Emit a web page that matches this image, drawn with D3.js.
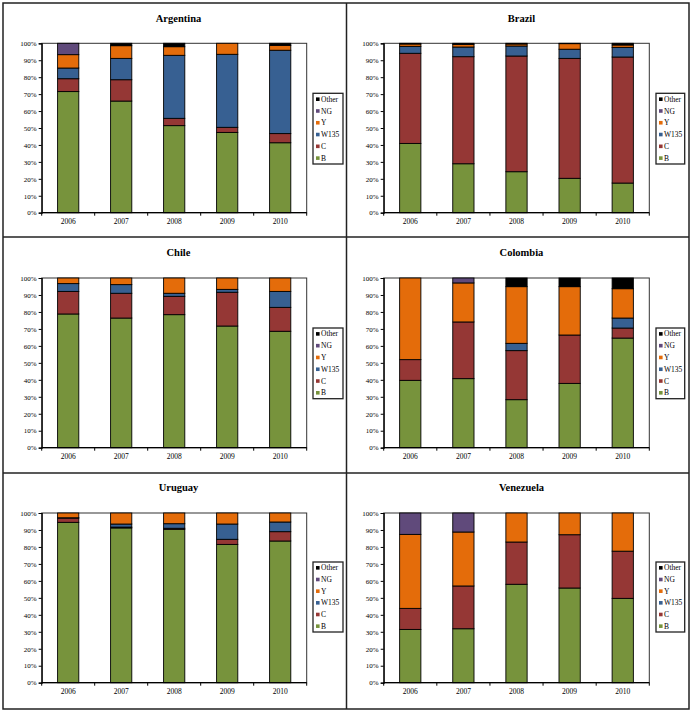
<!DOCTYPE html>
<html><head><meta charset="utf-8">
<script src="https://cdn.jsdelivr.net/npm/d3@7"></script>
<style>body{margin:0;background:#fff}svg{display:block}</style>
</head><body><svg id="c" width="692" height="714"></svg>
<script>
const years = ["2006","2007","2008","2009","2010"];
const seriesNames = ["B","C","W135","Y","NG","Other"];
const seriesColors = ["#77933c","#953735","#376092","#e46c0a","#604a7b","#000000"];
const yTickLabels = ["0%","10%","20%","30%","40%","50%","60%","70%","80%","90%","100%"];
const countries = ["Argentina","Brazil","Chile","Colombia","Uruguay","Venezuela"];
// values per series in order B, C, W135, Y, NG, Other (percent per year)
const argentina = [
  [71.5,65.9,51.4,47.4,41.3],
  [7.6,12.6,4.3,3.0,5.4],
  [6.3,12.6,37.2,43.1,49.2],
  [7.9,7.5,5.1,6.5,2.9],
  [6.7,0,0,0,0],
  [0,1.4,2.0,0,1.2]];
const brazil = [
  [40.9,28.9,24.2,20.3,17.5],
  [53.2,63.2,68.3,70.8,74.4],
  [4.1,5.7,5.9,5.4,5.7],
  [1.4,1.6,1.2,3.3,1.4],
  [0,0,0,0,0],
  [0.4,0.6,0.4,0.2,1.0]];
const chile = [
  [78.8,76.4,78.4,71.7,68.6],
  [13.3,14.6,10.8,19.9,14.1],
  [4.6,5.1,1.8,1.7,9.4],
  [3.3,3.9,9.0,6.7,7.9],
  [0,0,0,0,0],
  [0,0,0,0,0]];
const colombia = [
  [39.7,40.7,28.3,37.9,64.6],
  [12.2,33.4,28.9,28.5,5.9],
  [0,0,4.3,0,5.9],
  [48.1,23.0,33.4,28.5,17.3],
  [0,2.9,0,0,0],
  [0,0,5.1,5.1,6.3]];
const uruguay = [
  [94.5,91.2,90.4,81.5,83.5],
  [2.5,0.5,0.6,3.0,5.5],
  [0.2,1.8,2.7,9.0,5.7],
  [2.8,6.5,6.3,6.5,5.3],
  [0,0,0,0,0],
  [0,0,0,0,0]];
const venezuela = [
  [31.4,31.8,58.0,55.8,49.7],
  [12.4,25.2,24.9,31.4,27.8],
  [0,0,0,0,0],
  [43.6,31.8,17.1,12.8,22.5],
  [12.6,11.2,0,0,0],
  [0,0,0,0,0]];
const panelData = [argentina,brazil,chile,colombia,uruguay,venezuela];

const svg = d3.select("#c");
const FONT = "'Liberation Serif','Times New Roman',serif";

// panel frame
const frame = svg.append("g");
frame.append("rect").attr("x",3).attr("y",3).attr("width",686).attr("height",706)
  .attr("fill","none").attr("stroke","#222").attr("stroke-width",1.5);
frame.append("line").attr("x1",346.5).attr("x2",346.5).attr("y1",3).attr("y2",709).attr("stroke","#222").attr("stroke-width",1.5);
frame.append("line").attr("x1",3).attr("x2",689).attr("y1",237).attr("y2",237).attr("stroke","#222").attr("stroke-width",1.5);
frame.append("line").attr("x1",3).attr("x2",689).attr("y1",473).attr("y2",473).attr("stroke","#222").attr("stroke-width",1.5);

const cols = [
  {px0:41.7, px1:306.7, titleX:178.5, lx0:313, lx1:343},
  {px0:383.7, px1:649.3, titleX:521.5, lx0:656, lx1:684.7}];
const rows = [
  {py0:43.3, py1:212.7, titleY:21.5, ly0:93.3, ly1:164},
  {py0:278, py1:447.7, titleY:255.5, ly0:328, ly1:398.7},
  {py0:513, py1:682.7, titleY:490.5, ly0:562, ly1:632}];

countries.forEach((name,i)=>{
  const c = cols[i%2], r = rows[Math.floor(i/2)];
  const data = panelData[i];
  const g = svg.append("g");
  const x = d3.scaleBand().domain(years).range([c.px0,c.px1]).paddingInner(0.6).paddingOuter(0.3);
  const y = d3.scaleLinear().domain([0,100]).range([r.py1,r.py0]);
  // title
  g.append("text").attr("x",c.titleX).attr("y",r.titleY).attr("text-anchor","middle")
    .attr("font-family",FONT).attr("font-weight","bold").attr("font-size",10.5).text(name);
  // plot border
  g.append("rect").attr("x",c.px0).attr("y",r.py0).attr("width",c.px1-c.px0).attr("height",r.py1-r.py0)
    .attr("fill","#fff").attr("stroke","#333").attr("stroke-width",1);
  // stacked bars
  const stackRows = years.map((yr,j)=>{const o={year:yr}; seriesNames.forEach((s,k)=>o[s]=data[k][j]); return o;});
  const stacked = d3.stack().keys(seriesNames)(stackRows);
  stacked.forEach((layer,k)=>{
    g.append("g").selectAll("rect").data(layer.filter(d=>d[1]-d[0]>0)).join("rect")
      .attr("x",d=>x(d.data.year)).attr("width",x.bandwidth())
      .attr("y",d=>y(Math.min(100,d[1]))).attr("height",d=>y(d[0])-y(Math.min(100,d[1])))
      .attr("fill",seriesColors[k]).attr("stroke","#000").attr("stroke-width",0.9);
  });
  // y axis
  const ya = d3.axisLeft(y).tickValues(d3.range(0,101,10)).tickFormat((d,j)=>yTickLabels[j]).tickSize(3).tickPadding(2);
  const yg = g.append("g").attr("transform",`translate(${c.px0},0)`).call(ya);
  yg.select(".domain").attr("stroke","#000").attr("stroke-width",1.2);
  yg.selectAll(".tick line").attr("stroke","#000");
  yg.selectAll("text").attr("font-family",FONT).attr("font-size",7).attr("fill","#000");
  // x axis: ticks at band boundaries
  const xg = g.append("g").attr("transform",`translate(0,${r.py1})`);
  xg.append("line").attr("x1",c.px0).attr("x2",c.px1).attr("stroke","#000").attr("stroke-width",1.2);
  const step = x.step();
  const bounds = d3.range(0,6).map(j=>c.px0 + j*(c.px1-c.px0)/5);
  xg.selectAll("line.t").data(bounds).join("line").attr("class","t")
    .attr("x1",d=>d).attr("x2",d=>d).attr("y1",0).attr("y2",3).attr("stroke","#000");
  xg.selectAll("text").data(years).join("text")
    .attr("x",d=>x(d)+x.bandwidth()/2).attr("y",11).attr("text-anchor","middle")
    .attr("font-family",FONT).attr("font-size",7.5).text(d=>d);
  // legend
  const lg = g.append("g");
  lg.append("rect").attr("x",c.lx0).attr("y",r.ly0).attr("width",c.lx1-c.lx0).attr("height",r.ly1-r.ly0)
    .attr("fill","#fff").attr("stroke","#222").attr("stroke-width",1.3);
  const order = seriesNames.slice().reverse();
  const ls = (r.ly1-r.ly0)/6;
  order.forEach((s,j)=>{
    const k = seriesNames.indexOf(s);
    const cy = r.ly0 + ls*(j+0.5);
    lg.append("rect").attr("x",c.lx0+3).attr("y",cy-1.8).attr("width",3.6).attr("height",3.6).attr("fill",seriesColors[k]);
    lg.append("text").attr("x",c.lx0+8).attr("y",cy+2.6).attr("font-family",FONT).attr("font-size",7.5).text(s);
  });
});
</script></body></html>
